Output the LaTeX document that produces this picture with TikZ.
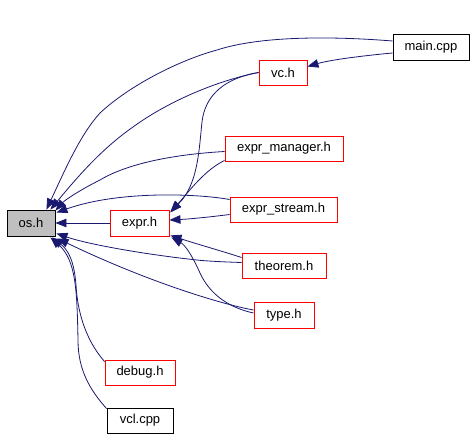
\documentclass[tikz,border=0pt]{standalone}
\usepackage{fontspec}
\setmainfont{Liberation Sans}
\usetikzlibrary{arrows.meta,calc}
\definecolor{edgeblue}{HTML}{191970}
\definecolor{boxgray}{HTML}{BFBFBF}
\begin{document}
\begin{tikzpicture}[x=1pt,y=-1pt,
  box/.style={draw=red,line width=0.9pt,inner sep=0pt,font=\fontsize{13}{14}\selectfont,minimum height=25pt},
  blackbox/.style={box,draw=black},
  ed/.style={draw=edgeblue,line width=0.8pt,-{Triangle[length=11pt,width=8.5pt]}}]
\useasboundingbox (0,0) rectangle (476,439);
% nodes
\node[blackbox,fill=boxgray,minimum width=48pt,minimum height=26pt] (os) at (31,223) {os.h};
\node[box,minimum width=59pt,minimum height=26pt] (expr) at (139.5,223) {expr.h};
\node[blackbox,minimum width=76pt,minimum height=26pt] (main) at (431,47) {main.cpp};
\node[box,minimum width=48pt] (vc) at (283,72.5) {vc.h};
\node[box,minimum width=118pt] (exprman) at (284,148.5) {expr\_manager.h};
\node[box,minimum width=107pt] (exprstr) at (283.5,209.5) {expr\_stream.h};
\node[box,minimum width=84pt] (theorem) at (284,265.5) {theorem.h};
\node[box,minimum width=60pt,minimum height=26pt] (type) at (284,315) {type.h};
\node[box,minimum width=70pt] (debug) at (140,372.5) {debug.h};
\node[blackbox,minimum width=66pt] (vcl) at (140,420.5) {vcl.cpp};
% edges
\draw[ed] ($(main.west)+(0,-6)$) .. controls (330,36) and (260,36) .. (217,50)
  .. controls (180,60) and (130,85) .. (100,113)
  .. controls (80,135) and (65,170) .. ($(os.north east)+(-9,0)$);
\draw[ed] ($(main.west)+(0,6)$) .. controls (360,56) and (330,60) .. ($(vc.east)+(0,-6)$);
\draw[ed] (vc.west) .. controls (220,80) and (170,100) .. (133,127)
  .. controls (100,150) and (75,180) .. ($(os.north east)+(-5,0)$);
\draw[ed] (vc.west) .. controls (225,78) and (205,95) .. (202,122)
  .. controls (199,150) and (198,185) .. ($(expr.north east)+(1,2)$);
\draw[ed] ($(exprman.west)+(0,3)$) .. controls (180,154) and (130,162) .. (100,180)
  .. controls (80,190) and (65,200) .. ($(os.north east)+(0,1)$);
\draw[ed] ($(exprman.south west)+(0,-1)$) .. controls (205,170) and (190,190) .. ($(expr.north east)+(1,3)$);
\draw[ed] ($(exprstr.west)+(0,-10)$) .. controls (200,194) and (120,190) .. ($(os.north east)+(1,3)$);
\draw[ed] ($(exprstr.west)+(0,5)$) .. controls (210,217) and (190,219) .. ($(expr.east)+(0,-3)$);
\draw[ed] (expr.west) -- (os.east);
\draw[ed] ($(theorem.west)+(0,-3)$) .. controls (225,262) and (205,261) .. (197,260)
  .. controls (150,255) and (90,245) .. ($(os.south east)+(1,-3)$);
\draw[ed] ($(theorem.west)+(0,-8)$) .. controls (225,252) and (200,245) .. ($(expr.south east)+(1,-1)$);
\draw[ed] ($(type.west)+(0,-5)$) .. controls (225,305) and (150,283) .. ($(os.south east)+(2,2)$);
\draw[ed] ($(type.west)+(0,-2)$) .. controls (230,308) and (210,295) .. (200,273)
  .. controls (192,255) and (185,245) .. ($(expr.south east)+(2,1)$);
\draw[ed] ($(debug.north west)+(0,2)$) .. controls (90,345) and (78,320) .. (76,285)
  .. controls (74,260) and (68,250) .. ($(os.south east)+(-3,1)$);
\draw[ed] ($(vcl.north west)+(0,1)$) .. controls (90,390) and (78,370) .. (78,340)
  .. controls (77,290) and (76,260) .. ($(os.south east)+(-5,1)$);
\end{tikzpicture}
\end{document}
